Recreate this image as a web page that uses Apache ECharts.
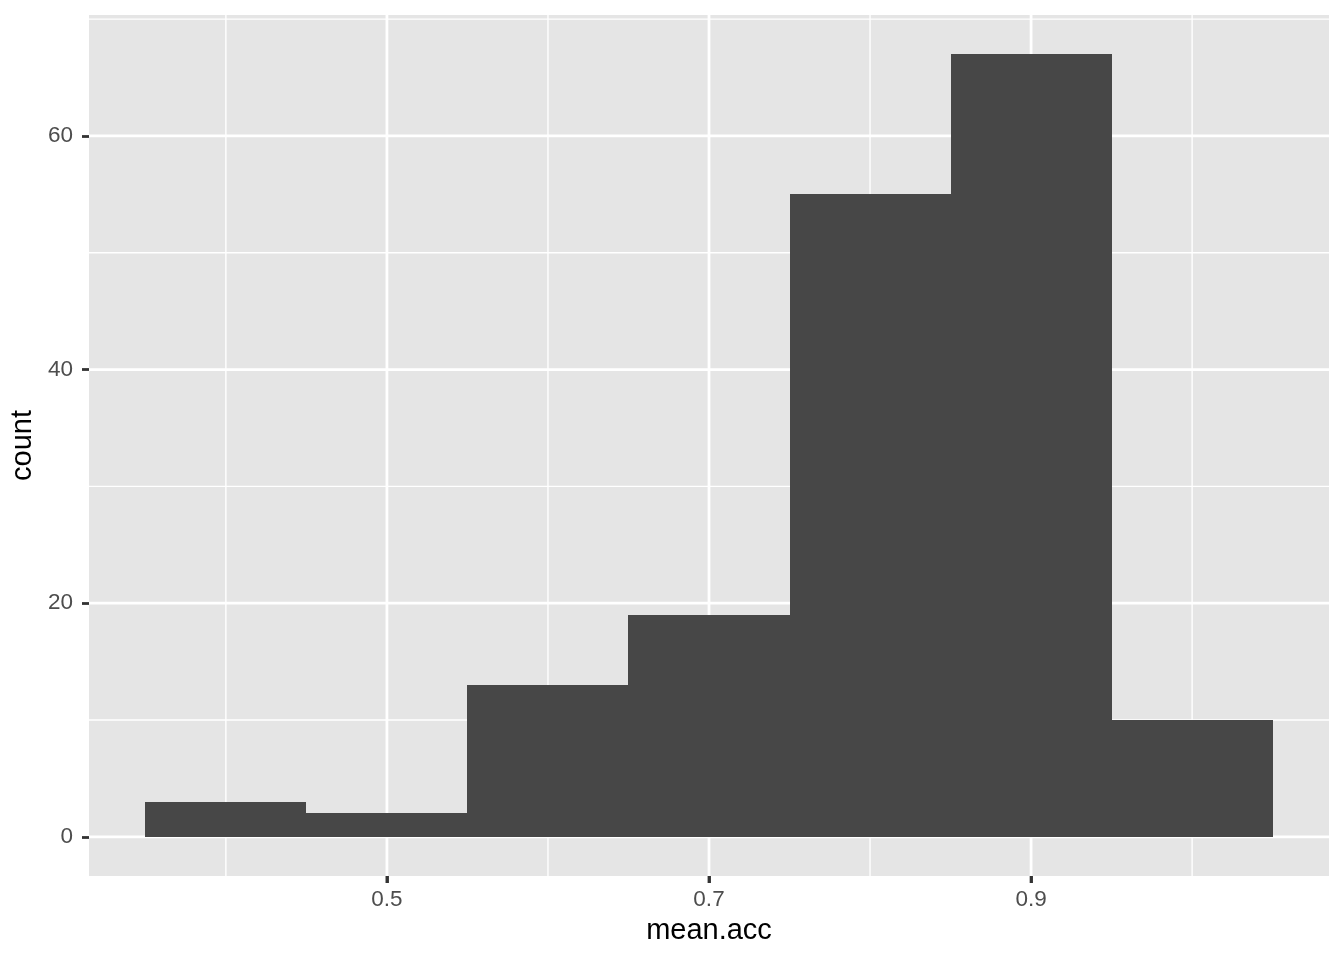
<!DOCTYPE html>
<html>
<head>
<meta charset="utf-8">
<script src="https://cdn.jsdelivr.net/npm/echarts@6/dist/echarts.min.js"></script>
<style>html,body{margin:0;padding:0;background:#fff}#c{width:1344px;height:960px}</style>
</head>
<body>
<div id="c"></div>
<script>
// Histogram bins (bin start, bin end) and counts
const binStarts = [0.35, 0.45, 0.55, 0.65, 0.75, 0.85, 0.95];
const binEnds   = [0.45, 0.55, 0.65, 0.75, 0.85, 0.95, 1.05];
const counts    = [3, 2, 13, 19, 55, 67, 10];

// Axis ticks / gridlines
const xTicks = [0.5, 0.7, 0.9];
const xMinor = [0.4, 0.6, 0.8, 1.0];
const yTicks = [0, 20, 40, 60];
const yMinor = [10, 30, 50, 70];

const xName = 'mean.acc';
const yName = 'count';

const FONT = '"Liberation Sans", Arial, Helvetica, sans-serif';

const barData = binStarts.map((s, i) => [s, binEnds[i], counts[i]]);
const gridData = [];
xTicks.forEach(v => gridData.push([v, 0, 1]));
xMinor.forEach(v => gridData.push([v, 0, 0]));
yTicks.forEach(v => gridData.push([v, 1, 1]));
yMinor.forEach(v => gridData.push([v, 1, 0]));

const chart = echarts.init(document.getElementById('c'), null, {renderer: 'canvas'});
chart.setOption({
  animation: false,
  backgroundColor: '#ffffff',
  grid: {left: 88, right: 15, top: 15, bottom: 84, show: true, backgroundColor: '#E5E5E5', borderWidth: 0},
  xAxis: {
    type: 'value', min: 0.315, max: 1.085,
    position: 'bottom',
    name: xName, nameLocation: 'middle', nameGap: 40,
    nameTextStyle: {fontFamily: FONT, fontSize: 29, color: '#000000'},
    axisLine: {show: false, onZero: false},
    splitLine: {show: false},
    axisTick: {show: true, inside: false, customValues: xTicks, length: 7, lineStyle: {color: '#333333', width: 2.8}},
    axisLabel: {customValues: xTicks, margin: 12, fontFamily: FONT, fontSize: 22.5, color: '#4D4D4D',
      formatter: v => v.toFixed(1)}
  },
  yAxis: {
    type: 'value', min: -3.35, max: 70.35,
    name: yName, nameLocation: 'middle', nameGap: 52, nameRotate: 90,
    nameTextStyle: {fontFamily: FONT, fontSize: 29, color: '#000000'},
    axisLine: {show: false, onZero: false},
    splitLine: {show: false},
    axisTick: {show: true, customValues: yTicks, length: 7, lineStyle: {color: '#333333', width: 2.8}},
    axisLabel: {customValues: yTicks, margin: 16, fontFamily: FONT, fontSize: 22.5, color: '#4D4D4D',
      formatter: v => String(Math.round(v))}
  },
  series: [
    {
      type: 'custom', z: 1, silent: true, clip: true,
      data: gridData,
      encode: {x: 0},
      renderItem: function (params, api) {
        const cs = params.coordSys;
        const v = api.value(0), dir = api.value(1), major = api.value(2);
        const w = major ? 2.8 : 1.4;
        let shape;
        if (dir === 0) {
          const x = api.coord([v, 0])[0];
          shape = {x1: x, y1: cs.y, x2: x, y2: cs.y + cs.height};
        } else {
          const y = api.coord([0.5, v])[1];
          shape = {x1: cs.x, y1: y, x2: cs.x + cs.width, y2: y};
        }
        return {type: 'line', shape: shape, style: {stroke: '#FFFFFF', lineWidth: w}};
      }
    },
    {
      type: 'custom', z: 2, silent: true,
      data: barData,
      encode: {x: [0, 1], y: 2},
      renderItem: function (params, api) {
        const p0 = api.coord([api.value(0), api.value(2)]);
        const p1 = api.coord([api.value(1), 0]);
        const x0 = Math.round(p0[0]), x1 = Math.round(p1[0]);
        const y0 = Math.round(p0[1]), y1 = Math.round(p1[1]);
        return {type: 'rect', shape: {x: x0, y: y0, width: x1 - x0, height: y1 - y0},
          style: {fill: '#474747'}};
      }
    },
    {
      // x-axis tick marks below the panel (drawn as small rects)
      type: 'custom', z: 10, silent: true, clip: false,
      data: xTicks.map(v => [v, 0]),
      encode: {x: 0, y: 1},
      renderItem: function (params, api) {
        const cs = params.coordSys;
        const x = api.coord([api.value(0), api.value(1)])[0];
        const yb = cs.y + cs.height;
        return {type: 'rect', z2: 100, shape: {x: x - 1.4, y: yb, width: 2.8, height: 7},
          style: {fill: '#333333'}};
      }
    }
  ]
});
</script>
</body>
</html>
